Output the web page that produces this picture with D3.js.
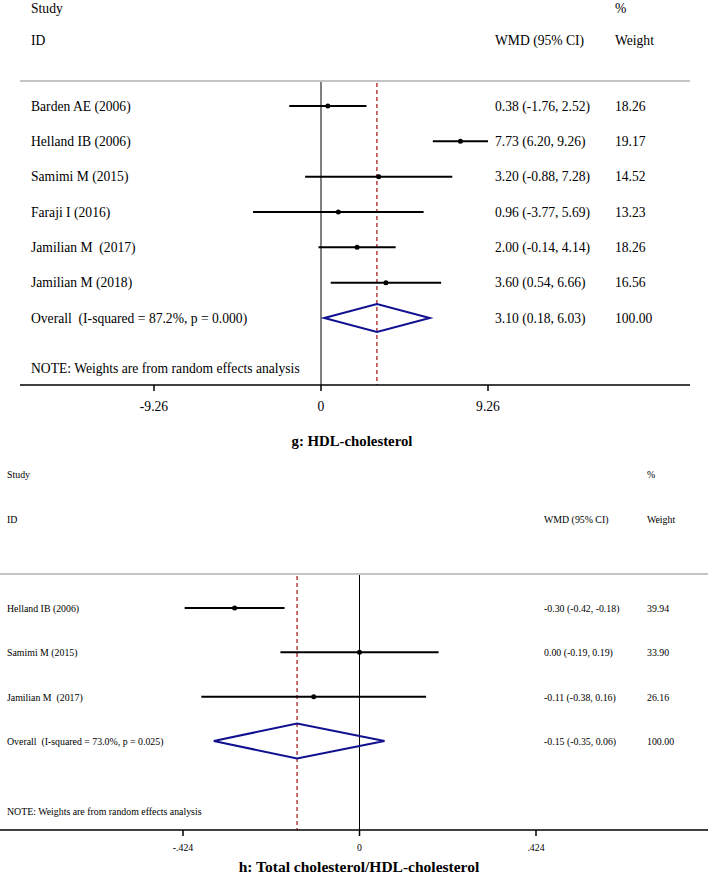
<!DOCTYPE html>
<html>
<head>
<meta charset="utf-8">
<script src="https://cdn.jsdelivr.net/npm/d3@7"></script>
<style>
  body { margin: 0; background: #fff; }
  text { font-family: "Liberation Serif", "Times New Roman", serif; fill: #000; white-space: pre; }
</style>
</head>
<body>
<svg id="chart" width="708" height="878"></svg>
<script>
// panel g: HDL-cholesterol
var gStudies = ["Barden AE (2006)", "Helland IB (2006)", "Samimi M (2015)", "Faraji I (2016)", "Jamilian M  (2017)", "Jamilian M (2018)"]
var gEst = [0.38, 7.73, 3.20, 0.96, 2.00, 3.60]
var gLo = [-1.76, 6.20, -0.88, -3.77, -0.14, 0.54]
var gHi = [2.52, 9.26, 7.28, 5.69, 4.14, 6.66]
var gWeight = ["18.26", "19.17", "14.52", "13.23", "18.26", "16.56"]
var gOverall = [3.10, 0.18, 6.03]
var gOverallLabel = "Overall  (I-squared = 87.2%, p = 0.000)"
var gTicks = [-9.26, 0, 9.26]
var gTickLabels = ["-9.26", "0", "9.26"]

// panel h: Total cholesterol/HDL-cholesterol
var hStudies = ["Helland IB (2006)", "Samimi M (2015)", "Jamilian M  (2017)"]
var hEst = [-0.30, 0.00, -0.11]
var hLo = [-0.42, -0.19, -0.38]
var hHi = [-0.18, 0.19, 0.16]
var hWeight = ["39.94", "33.90", "26.16"]
var hOverall = [-0.15, -0.35, 0.06]
var hOverallLabel = "Overall  (I-squared = 73.0%, p = 0.025)"
var hTicks = [-0.424, 0, 0.424]
var hTickLabels = ["-.424", "0", ".424"]

var svg = d3.select("#chart")
var f2 = d3.formatLocale({ decimal: ".", thousands: ",", grouping: [3], currency: ["", ""], minus: "-" }).format(".2f")

function forest(opt) {
  var g = svg.append("g")
  var x = d3.scaleLinear().domain([-opt.ticks[2], opt.ticks[2]]).range(opt.xRange)
  var y = d3.scaleLinear().domain([0, opt.studies.length]).range(opt.yRange)
  var fs = opt.fontSize

  function label(tx, ty, s, anchor, weight, size, sx) {
    g.append("text")
      .attr("transform", "translate(" + tx + "," + ty + ") scale(" + (sx || opt.sx) + ",1)")
      .attr("dy", "0.35em")
      .attr("xml:space", "preserve")
      .attr("text-anchor", anchor || "start")
      .style("font-size", (size || fs) + "px")
      .style("font-weight", weight || "normal")
      .text(s)
  }

  // header
  label(opt.left, opt.headY[0], "Study")
  label(opt.wCol, opt.headY[0], "%")
  label(opt.left, opt.headY[1], "ID")
  label(opt.ciCol, opt.headY[1], "WMD (95% CI)")
  label(opt.wCol, opt.headY[1], "Weight")

  // grey separator
  g.append("line")
    .attr("x1", opt.lineX[0]).attr("x2", opt.lineX[1])
    .attr("y1", opt.greyY).attr("y2", opt.greyY)
    .attr("stroke", "#c4c4c4").attr("stroke-width", 2)

  // zero line
  g.append("line")
    .attr("x1", x(0)).attr("x2", x(0))
    .attr("y1", opt.greyY + 1).attr("y2", opt.axisY)
    .attr("stroke", "#000").attr("stroke-width", 1)

  // overall effect dashed line
  g.append("line")
    .attr("x1", x(opt.overall[0])).attr("x2", x(opt.overall[0]))
    .attr("y1", opt.greyY + 2).attr("y2", opt.axisY)
    .attr("stroke", "#a01010").attr("stroke-width", 1.2)
    .attr("stroke-dasharray", "4,3")

  var rows = opt.studies.map(function (s, i) {
    return { name: s, est: opt.est[i], lo: opt.lo[i], hi: opt.hi[i], w: opt.weight[i], i: i }
  })

  g.selectAll(".ci").data(rows).enter().append("line")
    .attr("x1", function (d) { return x(d.lo) })
    .attr("x2", function (d) { return x(d.hi) })
    .attr("y1", function (d) { return y(d.i) })
    .attr("y2", function (d) { return y(d.i) })
    .attr("stroke", "#000").attr("stroke-width", 2)

  g.selectAll(".pt").data(rows).enter().append("circle")
    .attr("cx", function (d) { return x(d.est) })
    .attr("cy", function (d) { return y(d.i) })
    .attr("r", 2.5)
    .attr("fill", "#000")

  rows.forEach(function (d) {
    var yy = y(d.i)
    label(opt.left, yy, d.name)
    label(opt.ciCol, yy, f2(d.est) + " (" + f2(d.lo) + ", " + f2(d.hi) + ")")
    label(opt.wCol, yy, d.w)
  })

  // overall diamond
  var oy = y(opt.studies.length)
  var o = opt.overall
  g.append("path")
    .attr("d", "M" + x(o[1]) + "," + oy + "L" + x(o[0]) + "," + (oy - opt.dh) +
      "L" + x(o[2]) + "," + oy + "L" + x(o[0]) + "," + (oy + opt.dh) + "Z")
    .attr("fill", "none").attr("stroke", "#101090").attr("stroke-width", 2)
  label(opt.left, oy, opt.overallLabel)
  label(opt.ciCol, oy, f2(o[0]) + " (" + f2(o[1]) + ", " + f2(o[2]) + ")")
  label(opt.wCol, oy, "100.00")

  label(opt.left, opt.noteY, "NOTE: Weights are from random effects analysis")

  // axis
  g.append("line")
    .attr("x1", opt.lineX[0]).attr("x2", opt.lineX[1])
    .attr("y1", opt.axisY).attr("y2", opt.axisY)
    .attr("stroke", "#000").attr("stroke-width", 1.5)
  g.selectAll(".tick").data(opt.ticks).enter().append("line")
    .attr("x1", function (d) { return x(d) })
    .attr("x2", function (d) { return x(d) })
    .attr("y1", opt.axisY).attr("y2", opt.axisY + 6)
    .attr("stroke", "#000").attr("stroke-width", 1.5)
  opt.ticks.forEach(function (t, i) {
    label(x(t), opt.tickY, opt.tickLabels[i], "middle")
  })

  label(opt.titleX, opt.titleY, opt.title, "middle", "bold", opt.titleSize, 1)
}

forest({
  studies: gStudies, est: gEst, lo: gLo, hi: gHi, weight: gWeight,
  overall: gOverall, overallLabel: gOverallLabel,
  ticks: gTicks, tickLabels: gTickLabels,
  xRange: [154, 488], yRange: [106, 318],
  fontSize: 13.6, sx: 1, left: 31, ciCol: 495, wCol: 615,
  headY: [8, 40], greyY: 81, axisY: 385, noteY: 368, tickY: 406,
  lineX: [20, 690], dh: 14,
  title: "g: HDL-cholesterol", titleX: 352, titleY: 441, titleSize: 14.8
})

forest({
  studies: hStudies, est: hEst, lo: hLo, hi: hHi, weight: hWeight,
  overall: hOverall, overallLabel: hOverallLabel,
  ticks: hTicks, tickLabels: hTickLabels,
  xRange: [183, 536], yRange: [608, 741],
  fontSize: 11.2, sx: 0.88, left: 7, ciCol: 544, wCol: 647,
  headY: [474, 519], greyY: 574, axisY: 830, noteY: 811, tickY: 847,
  lineX: [0, 708], dh: 17.5,
  title: "h: Total cholesterol/HDL-cholesterol", titleX: 359, titleY: 867, titleSize: 15.5
})
</script>
</body>
</html>
